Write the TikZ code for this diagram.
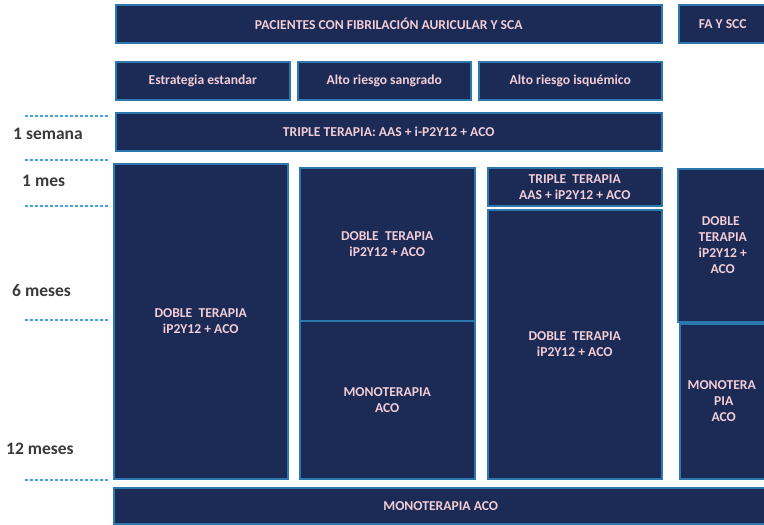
\documentclass[tikz,border=0pt]{standalone}
\usepackage{fontspec}
\setmainfont{Carlito}
\definecolor{boxfill}{HTML}{1C2A56}
\definecolor{boxline}{HTML}{2E78B0}
\definecolor{boxtext}{HTML}{F2CDD6}
\definecolor{dashc}{HTML}{4AA3E0}
\definecolor{labc}{HTML}{3A3A3A}
\tikzset{
  box/.style={draw=boxline, fill=boxfill, line width=1.5pt, text=boxtext,
    font=\bfseries\fontsize{13.6}{16}\selectfont, align=center, inner sep=0pt,
    anchor=north west, rectangle},
  tick/.style={draw=dashc, line width=1.5pt, dash pattern=on 3pt off 2pt},
  lab/.style={text=labc, font=\bfseries\fontsize{17.5}{20}\selectfont, anchor=west, inner sep=0pt}
}
\begin{document}
\begin{tikzpicture}[x=1pt,y=-1pt]
\useasboundingbox (0,0) rectangle (764,525);
% top row
\node[box, minimum width=546pt, minimum height=38pt] (pac) at (115,4) {PACIENTES CON FIBRILACIÓN AURICULAR Y SCA};
\node[box, minimum width=88pt, minimum height=38pt] (fa) at (678,4) {FA Y SCC};
% strategy row
\node[box, minimum width=174pt, minimum height=38pt] (est) at (115,61) {Estrategia estandar};
\node[box, minimum width=173pt, minimum height=38pt] (ars) at (297,61) {Alto riesgo sangrado};
\node[box, minimum width=183pt, minimum height=38pt] (ari) at (478,61) {Alto riesgo isquémico};
% triple
\node[box, minimum width=546pt, minimum height=38pt] (tri) at (115,112) {TRIPLE TERAPIA: AAS + i-P2Y12 + ACO};
% column 1
\node[box, minimum width=174pt, minimum height=315pt] (c1) at (113,163) {DOBLE~~TERAPIA\\iP2Y12 + ACO};
% column 2
\node[box, minimum width=175pt, minimum height=153pt] (c2a) at (299,167) {DOBLE~~TERAPIA\\iP2Y12 + ACO};
\node[box, minimum width=175pt, minimum height=158pt] (c2b) at (299,320) {MONOTERAPIA\\ACO};
% column 3
\node[box, minimum width=174pt, minimum height=38pt] (c3a) at (487,167) {TRIPLE~~TERAPIA\\AAS + iP2Y12 + ACO};
\node[box, minimum width=174pt, minimum height=269pt] (c3b) at (487,209) {DOBLE~~TERAPIA\\iP2Y12 + ACO};
% column 4
\node[box, minimum width=90pt, minimum height=153pt] (c4a) at (677,168) {\hspace*{-4pt}DOBLE\\TERAPIA\\iP2Y12 +\\ACO};
\node[box, minimum width=88pt, minimum height=155pt] (c4b) at (679,323) {\hspace*{-4pt}MONOTERA\\PIA\\ACO};
% bottom
\node[box, minimum width=654pt, minimum height=36pt] (bot) at (113,487) {MONOTERAPIA ACO};
% time marks
\coordinate (d1a) at (25,116); \coordinate (d1b) at (108,116);
\coordinate (d2a) at (25,160); \coordinate (d2b) at (108,160);
\coordinate (d3a) at (25,206); \coordinate (d3b) at (108,206);
\coordinate (d4a) at (25,320); \coordinate (d4b) at (108,320);
\coordinate (d5a) at (25,480); \coordinate (d5b) at (108,480);
\draw[tick] (d1a) -- (d1b);
\draw[tick, line width=2.5pt] (d2a) -- (d2b);
\draw[tick] (d3a) -- (d3b);
\draw[tick] (d4a) -- (d4b);
\draw[tick] (d5a) -- (d5b);
\node[lab] (l1) at (13,134) {1 semana};
\node[lab] (l2) at (22,181) {1 mes};
\node[lab] (l3) at (12,291) {6 meses};
\node[lab] (l4) at (6,449) {12 meses};
\end{tikzpicture}
\end{document}
